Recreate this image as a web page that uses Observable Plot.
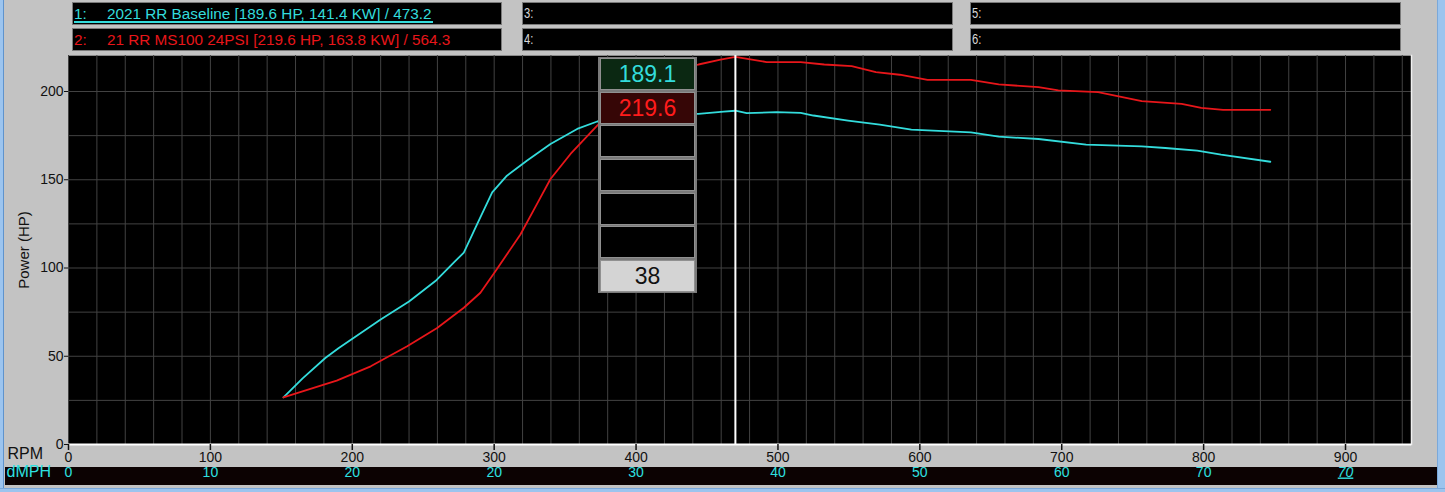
<!DOCTYPE html>
<html><head><meta charset="utf-8">
<script src="https://cdn.jsdelivr.net/npm/d3@7"></script>
<script src="https://cdn.jsdelivr.net/npm/@observablehq/plot@0.6"></script>
<style>
html,body{margin:0;padding:0;}
body{width:1445px;height:492px;overflow:hidden;background:#c3c3c3;font-family:"Liberation Sans",Arial,sans-serif;}
#page{position:relative;width:1445px;height:492px;background:#c3c3c3;}
.edgeL{position:absolute;left:0;top:0;width:3px;height:492px;background:#9cc4ee;border-right:1px solid #5f93cc;}
.edgeR{position:absolute;left:1437px;top:0;width:8px;height:492px;background:#9cc4ee;border-left:1px solid #7aa8da;}
.edgeB{position:absolute;left:0;top:488px;width:1445px;height:4px;background:#9cc4ee;border-top:1px solid #7aa8da;}
.band{position:absolute;left:5px;top:467px;width:1432px;height:18px;background:#0c0202;}
.lg{position:absolute;background:#000;border:1px solid #7a7a7a;box-sizing:border-box;height:23px;}
.lg span{position:absolute;top:2px;font-size:15.3px;white-space:nowrap;}
#chart{position:absolute;left:0;top:54px;}
#tip{position:absolute;left:598px;top:57px;width:99px;height:236px;background:#7a7a7a;box-sizing:border-box;padding:1px 2px;z-index:5;}
#tip div{box-sizing:border-box;height:32px;margin-bottom:1.7px;border:1px solid #909090;text-align:center;font-size:23px;line-height:30px;}
</style>
</head><body>
<div id="page">
  <div class="band"></div>
  <div id="legend"></div>
  <div id="chart"></div>
  <div id="tip"></div>
  <div class="edgeL"></div><div class="edgeR"></div><div class="edgeB"></div>
</div>
<script>
// ---- data ----
const rpmBase = [151.5,165,181,190.5,220,240,258.6,272.7,278.6,288,298.6,309,323,339.7,358.5,372.6,390,410,430,444,461.8,470,478,499,516,525,549.4,571.8,594,636,655.6,683.6,717.2,756.4,773,795.5,812.3,847];
const hpBase  = [26.7,37.5,49,54.7,70.8,81,92.6,104,108.7,124.8,142.8,152.3,160.8,170.3,178.8,183,185.5,186.5,187.3,187.3,188.6,189.1,187.7,188.3,187.9,186.4,183.5,181.2,178.4,176.9,174.4,173.1,169.9,168.9,168,166.5,164.2,160.2];
const rpmMod  = [151.5,180,189,213,238.7,259.8,278.6,290.3,301,318.5,330.3,339.7,353.8,372.6,390,410,430,444,459.5,470,492,516,532.6,552,569,585.8,605.4,636,655.6,683.6,697.6,725.6,756.4,784.5,798.3,813.7,847];
const hpMod   = [26.7,33.9,36.2,44.3,55.7,66,77.5,86,98.3,119,136.5,150.4,164.6,180.7,195,206,212,215.3,218,219.6,216.7,216.7,215.3,214.4,211,209.5,206.6,206.6,204,202.5,200.6,199.6,194.5,193,190.7,189.6,189.6];
const xTicks = [0,100,200,300,400,500,600,700,800,900];
const dmphLabels = ["0","10","20","20","30","40","50","60","70","70"];
const yTicks = [0,50,100,150,200];
const legendNums = ["1:","2:","3:","4:","5:","6:"];
const legendNames = ["2021 RR Baseline [189.6 HP, 141.4 KW] / 473.2","21 RR MS100 24PSI [219.6 HP, 163.8 KW] / 564.3","","","",""];
const seriesColors = ["#33dcdc","#e8161a"];
const cursorRpm = 470;
const readouts = ["189.1","219.6","","","",""];
const counterText = "38";

// ---- legend boxes ----
const legend = document.getElementById("legend");
const boxPos = [[72,2,430],[72,28,430],[522,2,431],[522,28,431],[970,2,431],[970,28,431]];
legendNums.forEach((n,i)=>{
  const [l,t,w] = boxPos[i];
  const b = document.createElement("div");
  b.className = "lg";
  Object.assign(b.style,{left:l+"px",top:t+"px",width:w+"px"});
  const c = i<2 ? seriesColors[i] : "#d8d8d8";
  const s1 = document.createElement("span");
  s1.textContent = n; s1.style.left = "1px"; s1.style.color = c;
  if(i>=2){s1.style.fontSize="14px"; s1.style.transform="scaleX(0.8)"; s1.style.transformOrigin="left";}
  b.appendChild(s1);
  if(legendNames[i]){
    const s2 = document.createElement("span");
    s2.textContent = legendNames[i]; s2.style.left = "34px"; s2.style.color = c;
    b.appendChild(s2);
    if(i===0){
      b.appendChild(Object.assign(document.createElement("div"),{}));
      const u = b.lastChild;
      Object.assign(u.style,{position:"absolute",left:"1px",top:"18px",width:(34+s2.getBoundingClientRect().width)+"px",height:"1.5px",background:c});
      requestAnimationFrame(()=>{u.style.width=(34+s2.getBoundingClientRect().width)+"px";});
    }
  }
  legend.appendChild(b);
});

// ---- chart ----
const base = rpmBase.map((r,i)=>({rpm:r,hp:hpBase[i]}));
const mod = rpmMod.map((r,i)=>({rpm:r,hp:hpMod[i]}));

const chart = Plot.plot({
  width: 1445, height: 438,
  marginLeft: 68, marginRight: 34, marginTop: 1, marginBottom: 48,
  style: {background: "transparent", overflow: "visible", fontFamily: "'Liberation Sans', Arial, sans-serif"},
  x: {domain: [0, 946.5]},
  y: {domain: [0, 220.4]},
  marks: [
    Plot.frame({fill: "black", stroke: "#8a8a8a"}),
    Plot.gridX({interval: 20, stroke: "#424242", strokeOpacity: 1}),
    Plot.gridY({interval: 25, stroke: "#424242", strokeOpacity: 1}),
    Plot.frame({anchor: "right", stroke: "#f0f0f0", strokeWidth: 1.5}),
    Plot.ruleY([0], {stroke: "white", strokeWidth: 2}),
    Plot.line(base, {x: "rpm", y: "hp", stroke: seriesColors[0], strokeWidth: 1.8}),
    Plot.line(mod, {x: "rpm", y: "hp", stroke: seriesColors[1], strokeWidth: 1.8}),
    Plot.ruleX([cursorRpm], {stroke: "white", strokeWidth: 2}),
    Plot.axisY({ticks: yTicks, tickFormat: d=>d, tickSize: 4, tickPadding: 1, fontSize: 14, fill: "#111", stroke: "#111",
      label: "Power (HP)", labelAnchor: "center", labelOffset: 50, labelArrow: "none"}),
    Plot.axisX({ticks: xTicks, tickFormat: d=>d, tickSize: 6, tickPadding: 2, fontSize: 14, fill: "#111", stroke: "#111", strokeWidth: 1.5, label: null}),
    Plot.text(["RPM"], {text: d=>d, frameAnchor: "bottom-left", dx: -61, dy: 14, textAnchor: "start", fontSize: 16, fill: "#111"}),
    Plot.text(["dMPH"], {text: d=>d, frameAnchor: "bottom-left", dx: -62, dy: 32, textAnchor: "start", fontSize: 16, fill: "#2ee0e0"}),
    Plot.text(xTicks.slice(0,-1), {x: d=>d, text: (d,i)=>dmphLabels[i], frameAnchor: "bottom", dy: 32, fontSize: 14, fill: "#2ee0e0"}),
    Plot.text(xTicks.slice(-1), {x: d=>d, text: ()=>dmphLabels[dmphLabels.length-1], frameAnchor: "bottom", dy: 32, fontSize: 14, fontStyle: "italic", fill: "#2ee0e0"})
  ]
});
const textGroups = chart.querySelectorAll('g[aria-label="text"]');
d3.select(textGroups[textGroups.length-1]).selectAll("text").style("text-decoration","underline");
d3.select(chart).selectAll('g[aria-label="y-axis label"]').attr("font-size", 15);
document.getElementById("chart").appendChild(chart);

// ---- readout box ----
const tip = document.getElementById("tip");
const cellStyles = [["#0b2812",seriesColors[0]],["#360606","#ff1c1c"],["#000",""],["#000",""],["#000",""],["#000",""]];
readouts.forEach((v,i)=>{
  const d = document.createElement("div");
  d.textContent = v;
  d.style.background = cellStyles[i][0];
  d.style.color = cellStyles[i][1];
  tip.appendChild(d);
});
const cnt = document.createElement("div");
cnt.textContent = counterText;
Object.assign(cnt.style,{background:"#d4d4d4",color:"#111",marginBottom:"0"});
tip.appendChild(cnt);
</script>
</body></html>
